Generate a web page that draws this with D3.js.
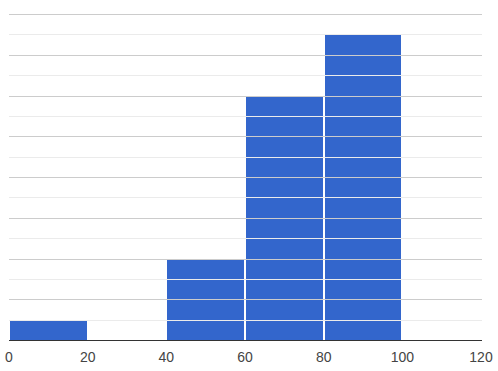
<!DOCTYPE html>
<html>
<head>
<meta charset="utf-8">
<script src="https://cdn.jsdelivr.net/npm/d3@7"></script>
<style>
  body { margin: 0; background: #fff; }
  text { font-family: Arial, "Liberation Sans", sans-serif; }
</style>
</head>
<body>
<svg id="chart" width="498" height="371"></svg>
<script>
// histogram bins (lower edge) and item counts
var binStart = [0, 20, 40, 60, 80, 100];
var binWidth = 20;
var counts = [1, 0, 4, 12, 15, 0];
var xTicks = [0, 20, 40, 60, 80, 100, 120];

var svg = d3.select("#chart");
var plotLeft = 9, plotRight = 481, plotTop = 14, plotBottom = 340;

var x = d3.scaleLinear().domain([0, 120]).range([plotLeft, plotRight]);
var y = d3.scaleLinear().domain([0, 16]).range([plotBottom, plotTop]);

// gridlines: minor every 1, major every 2
var g = svg.append("g");
d3.range(1, 17).forEach(function(v) {
  var yy = Math.round(y(v)) + 0.5;
  g.append("line")
    .attr("x1", plotLeft).attr("x2", plotRight + 1)
    .attr("y1", yy).attr("y2", yy)
    .attr("stroke", v % 2 == 0 ? "#cccccc" : "#ebebeb")
    .attr("stroke-width", 1);
});

// blocks: one per item, stacked
var blocks = [];
binStart.forEach(function(b, i) {
  for (var k = 0; k < counts[i]; k++) blocks.push({ x0: b, k: k });
});

svg.append("g").selectAll("rect")
  .data(blocks)
  .enter()
  .append("rect")
  .attr("x", function(d) { return Math.round(x(d.x0)) + 1; })
  .attr("width", function(d) { return Math.round(x(d.x0 + binWidth)) - Math.round(x(d.x0)) - 2; })
  .attr("y", function(d) { return Math.round(y(d.k + 1)) + 1; })
  .attr("height", function(d) { return Math.round(y(d.k)) - Math.round(y(d.k + 1)) - 1; })
  .attr("fill", "#3366cc");

// baseline
svg.append("line")
  .attr("x1", plotLeft).attr("x2", plotRight + 1)
  .attr("y1", plotBottom + 0.5).attr("y2", plotBottom + 0.5)
  .attr("stroke", "#333333")
  .attr("stroke-width", 1);

// x labels
svg.append("g").selectAll("text")
  .data(xTicks)
  .enter()
  .append("text")
  .attr("x", function(d) { return x(d); })
  .attr("y", 362)
  .attr("text-anchor", "middle")
  .attr("font-size", 14)
  .attr("fill", "#444444")
  .text(function(d) { return d; });
</script>
</body>
</html>
